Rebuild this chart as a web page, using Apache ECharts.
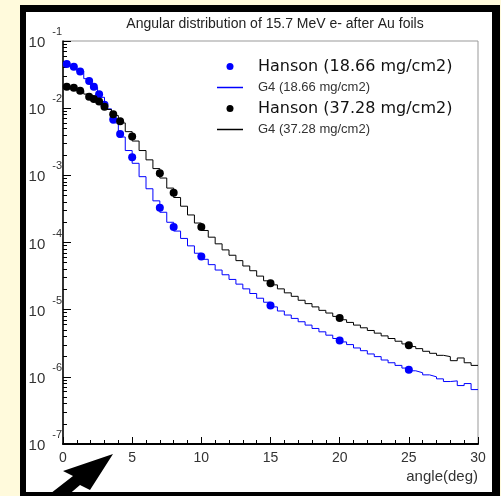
<!DOCTYPE html>
<html>
<head>
<meta charset="utf-8">
<script src="https://cdn.jsdelivr.net/npm/echarts@6/dist/echarts.min.js"></script>
<style>
  html, body { margin: 0; padding: 0; background: #fffadc; }
  #frame {
    position: absolute; left: 20px; top: 5px; width: 480px; height: 494px;
    box-sizing: border-box; background: #fff;
    border-style: solid; border-color: #000; border-width: 7px 8px 7px 6px;
  }
  #main { position: absolute; left: 0; top: 0; width: 501px; height: 496px; }
</style>
</head>
<body>
<div id="frame"></div>
<div id="main"></div>
<script>
// Hanson measured points (angle in deg)
var hansonAngle = [0.27, 0.78, 1.24, 1.89, 2.23, 2.61, 3.0, 3.63, 4.13, 5, 7, 8, 10, 15, 20, 25];
var hanson18 = [4.55e-2, 4.15e-2, 3.5e-2, 2.54e-2, 2.09e-2, 1.61e-2, 1.12e-2, 6.8e-3, 4.13e-3, 1.86e-3, 3.3e-4, 1.7e-4, 6.2e-5, 1.15e-5, 3.47e-6, 1.27e-6];
var hanson37 = [2.09e-2, 2.02e-2, 1.82e-2, 1.48e-2, 1.37e-2, 1.26e-2, 1.05e-2, 8.1e-3, 6.4e-3, 3.77e-3, 1.07e-3, 5.5e-4, 1.7e-4, 2.48e-5, 7.5e-6, 2.95e-6];

// G4 histograms, low edge of each 0.5 deg bin
var binEdges = [0, 0.5, 1, 1.5, 2, 2.5, 3, 3.5, 4, 4.5, 5, 5.5, 6, 6.5, 7, 7.5, 8, 8.5, 9, 9.5,
  10, 10.5, 11, 11.5, 12, 12.5, 13, 13.5, 14, 14.5, 15, 15.5, 16, 16.5, 17, 17.5, 18, 18.5, 19, 19.5,
  20, 20.5, 21, 21.5, 22, 22.5, 23, 23.5, 24, 24.5, 25, 25.5, 26, 26.5, 27, 27.5, 28, 28.5, 29, 29.5, 30];
var g4_18 = [4.68e-2, 4.27e-2, 3.55e-2, 2.75e-2, 2.04e-2, 1.45e-2, 9.77e-3, 6.03e-3, 3.72e-3, 2.34e-3,
  1.51e-3, 9.55e-4, 6.31e-4, 4.17e-4, 2.82e-4, 2.00e-4, 1.48e-4, 1.15e-4, 8.91e-5, 6.92e-5,
  5.62e-5, 4.68e-5, 3.89e-5, 3.31e-5, 2.82e-5, 2.40e-5, 2.04e-5, 1.74e-5, 1.48e-5, 1.29e-5,
  1.10e-5, 9.55e-6, 8.32e-6, 7.41e-6, 6.61e-6, 5.89e-6, 5.25e-6, 4.68e-6, 4.17e-6, 3.72e-6,
  3.31e-6, 3.02e-6, 2.69e-6, 2.45e-6, 2.19e-6, 2.00e-6, 1.78e-6, 1.62e-6, 1.48e-6, 1.35e-6,
  1.23e-6, 1.15e-6, 1.07e-6, 1.00e-6, 9.33e-7, 8.51e-7, 8.71e-7, 7.41e-7, 7.94e-7, 6.46e-7];
var g4_37 = [2.04e-2, 2.00e-2, 1.82e-2, 1.62e-2, 1.38e-2, 1.15e-2, 9.55e-3, 7.76e-3, 6.03e-3, 4.47e-3,
  3.24e-3, 2.34e-3, 1.70e-3, 1.26e-3, 9.12e-4, 6.46e-4, 4.68e-4, 3.47e-4, 2.57e-4, 1.95e-4,
  1.51e-4, 1.20e-4, 9.55e-5, 7.76e-5, 6.46e-5, 5.37e-5, 4.47e-5, 3.80e-5, 3.16e-5, 2.69e-5,
  2.34e-5, 2.04e-5, 1.78e-5, 1.58e-5, 1.38e-5, 1.23e-5, 1.10e-5, 9.77e-6, 8.91e-6, 7.94e-6,
  7.08e-6, 6.46e-6, 5.89e-6, 5.37e-6, 4.90e-6, 4.47e-6, 4.07e-6, 3.72e-6, 3.39e-6, 3.09e-6,
  2.82e-6, 2.63e-6, 2.40e-6, 2.24e-6, 2.09e-6, 2.00e-6, 1.74e-6, 1.91e-6, 1.62e-6, 1.48e-6];

var xTicks = [0, 5, 10, 15, 20, 25, 30];

var names = ['Hanson (18.66 mg/cm2)', 'G4 (18.66 mg/cm2)', 'Hanson (37.28 mg/cm2)', 'G4 (37.28 mg/cm2)'];

//把点和直方图拼成echarts要的格式
function pairs(xs, ys){
  var out = [];
  for(var i=0;i<ys.length;i++){
    out.push([xs[i], ys[i]]);
  }
  return out;
}
function histo(vals){
  var out = pairs(binEdges, vals);
  out.push([binEdges[vals.length], vals[vals.length-1]]);
  return out;
}

//对数轴的小刻度 2..9
var minorY = [];
for(var p=-7;p<-1;p++){
  for(var k=2;k<10;k++){
    minorY.push(k*Math.pow(10,p));
  }
}

var bigFont = {fontFamily:'DejaVu Sans', fontSize:16, color:'#111', padding:[0,0,0,10], lineHeight:21};
var smallFont = {fontFamily:'Liberation Sans', fontSize:13, color:'#333', padding:[0,0,0,10], lineHeight:21};
//图例里的细线
var lineIcon = 'path://M0,0H26V1.5H0Z';

var chart = echarts.init(document.getElementById('main'), null, {renderer:'canvas'});
var option = {
  animation:false,
  title:{
    text:'Angular distribution of 15.7 MeV e- after Au foils',
    left:270, top:12, textAlign:'center',
    textStyle:{fontFamily:'Liberation Sans', fontSize:14, fontWeight:'normal', color:'#222'}
  },
  legend:{
    orient:'vertical', left:217, top:56, padding:0, itemGap:0,
    itemWidth:26, itemHeight:7, selectedMode:false, symbolKeepAspect:true,
    data:[
      {name:names[0], textStyle:bigFont},
      {name:names[1], icon:lineIcon, textStyle:smallFont},
      {name:names[2], textStyle:bigFont},
      {name:names[3], icon:lineIcon, textStyle:smallFont}
    ]
  },
  grid:{
    left:63, right:23, top:41, bottom:52, containLabel:false, outerBoundsMode:'none',
    show:true, borderColor:'#999', borderWidth:1
  },
  xAxis:{
    type:'value', min:0, max:30, interval:5,
    axisLine:{lineStyle:{color:'#000', width:2}},
    axisTick:{inside:true, length:7, lineStyle:{color:'#000'}},
    minorTick:{show:true, splitNumber:5, length:4, lineStyle:{color:'#000'}},
    axisLabel:{margin:7, fontFamily:'Liberation Sans', fontSize:14, color:'#333',
      customValues:xTicks},
    splitLine:{show:false}
  },
  yAxis:[
    {
      type:'log', logBase:10, min:1e-7, max:1e-1,
      axisLine:{show:true, lineStyle:{color:'#000', width:1.5}},
      axisTick:{inside:true, length:8, lineStyle:{color:'#000'}},
      axisLabel:{
        margin:1, showMinLabel:true, showMaxLabel:true, padding:[4,0,0,0],
        formatter:function(v){
          var n = Math.round(Math.log10(v));
          return '{b|10}{e|' + n + '}';
        },
        rich:{
          b:{fontFamily:'Liberation Sans', fontSize:15, color:'#333', lineHeight:33, verticalAlign:'middle'},
          e:{fontFamily:'Liberation Sans', fontSize:11, color:'#333', lineHeight:19, padding:[0,0,0,7], verticalAlign:'top'}
        }
      },
      splitLine:{show:false}
    },
    {
      //只画2..9的小刻度
      type:'log', logBase:10, min:1e-7, max:1e-1, position:'left',
      axisLine:{show:false},
      axisLabel:{show:false},
      axisTick:{show:true, inside:true, length:4, customValues:minorY, lineStyle:{color:'#000'}},
      splitLine:{show:false}
    }
  ],
  series:[
    {
      name:names[1], type:'line', step:'end', showSymbol:false, symbol:'none',
      data:histo(g4_18), color:'#0000ff', lineStyle:{width:1, color:'#0000ff'}, z:2
    },
    {
      name:names[3], type:'line', step:'end', showSymbol:false, symbol:'none',
      data:histo(g4_37), color:'#000', lineStyle:{width:1, color:'#000'}, z:2
    },
    {
      name:names[0], type:'scatter', symbol:'circle', symbolSize:8,
      data:pairs(hansonAngle, hanson18), itemStyle:{color:'#0000ff', opacity:1}, z:3
    },
    {
      name:names[2], type:'scatter', symbol:'circle', symbolSize:8,
      data:pairs(hansonAngle, hanson37), itemStyle:{color:'#000', opacity:1}, z:3
    }
  ],
  graphic:[
    {
      //x轴标题
      type:'text', right:23, top:469, z:50,
      style:{text:'angle(deg)', fontFamily:'Liberation Sans', fontSize:15, fill:'#333'}
    },
    {
      //左下角的黑色箭头
      type:'polygon', z:100,
      shape:{points:[[113,454],[63,471],[73,476],[46,497],[66,497],[80,485],[90,490]]},
      style:{fill:'#000'}
    }
  ]
};
chart.setOption(option);
</script>
</body>
</html>
